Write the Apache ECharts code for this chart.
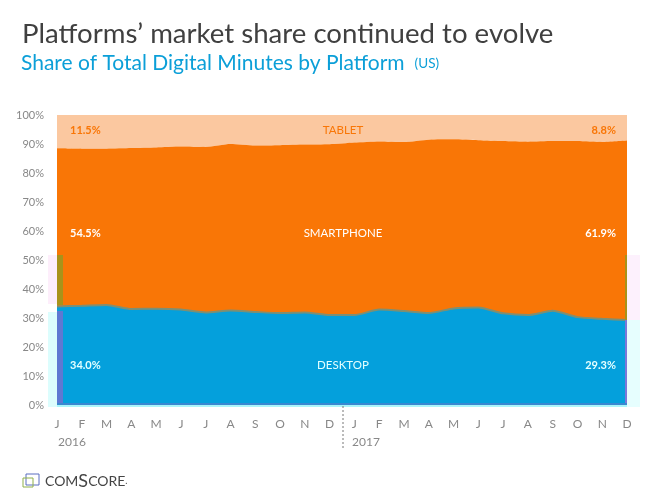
<!DOCTYPE html>
<html>
<head>
<meta charset="utf-8">
<style>html,body{margin:0;padding:0;background:#fff}#main{width:650px;height:499px}</style>
<script src="https://cdn.jsdelivr.net/npm/echarts@6/dist/echarts.min.js"></script>
</head>
<body>
<div id="main"></div>
<script>
const months = ['J','F','M','A','M','J','J','A','S','O','N','D','J','F','M','A','M','J','J','A','S','O','N','D'];
const percentLabels = ['0%','10%','20%','30%','40%','50%','60%','70%','80%','90%','100%'];

// Share of minutes
const desktop    = [34.0,34.2,34.5,33.1,33.2,32.9,31.9,32.6,32.1,31.7,31.9,31.0,31.0,32.9,32.4,31.7,33.3,33.6,31.6,31.0,32.5,30.3,29.7,29.3];
const smartphone = [54.5,54.2,53.9,55.5,55.6,56.2,57.1,57.4,57.4,57.9,57.9,58.9,59.5,58.0,58.3,59.8,58.3,57.7,59.4,59.8,58.5,60.7,61.0,61.9];
const tablet     = [11.5,11.6,11.6,11.4,11.2,10.9,11.0,10.0,10.5,10.4,10.2,10.1,9.5,9.1,9.3,8.5,8.4,8.7,9.0,9.2,9.0,9.0,9.3,8.8];

var myChart = echarts.init(document.getElementById('main'));

const font = 'Lato';
const grey = '#888';

function note(text, x, y, color, align) {
    return {
        type: 'text',
        x: x,
        y: y,
        z: 10,
        style: {
            text: text,
            fill: color,
            font: (text.indexOf('%') > 0 ? 'bold 11px ' : '11.5px ') + font,
            align: align,
            verticalAlign: 'middle'
        }
    };
}

// Colour fringes around the plot area, as they show in the reference
function fringe(x, y, width, height, color) {
    return {
        type: 'rect',
        z: 9,
        shape: { x: x, y: y, width: width, height: height },
        style: { fill: color }
    };
}

var option = {
    animation: false,
    backgroundColor: '#fff',
    title: [
        {
            text: 'Platforms’ market share continued to evolve',
            left: 17,
            top: 15,
            textStyle: { fontFamily: font, fontSize: 27.6, fontWeight: 'normal', color: '#404040' }
        },
        {
            text: '{a|Share of Total Digital Minutes by Platform}  {b|(US)}',
            left: 16,
            top: 48,
            textStyle: {
                fontWeight: 'normal',
                rich: {
                    a: { fontFamily: font, fontSize: 21, fontWeight: 'normal', color: '#0b9fd8' },
                    b: { fontFamily: font, fontSize: 13.5, fontWeight: 'normal', color: '#0b9fd8' }
                }
            }
        }
    ],
    grid: { left: 57, right: 23, top: 115, bottom: 94 },
    xAxis: {
        type: 'category',
        boundaryGap: false,
        data: months,
        axisLine: { show: false },
        axisTick: { show: false },
        axisLabel: { interval: 0, color: grey, fontFamily: font, fontSize: 12, margin: 13 }
    },
    yAxis: {
        type: 'value',
        min: 0,
        max: 100,
        interval: 10,
        splitLine: { show: false },
        axisLine: { show: false },
        axisTick: { show: false },
        axisLabel: {
            color: grey,
            fontFamily: font,
            fontSize: 11,
            margin: 13,
            formatter: function (v) { return percentLabels[v / 10]; }
        }
    },
    series: [
        {
            name: 'Desktop', type: 'line', stack: 'share', data: desktop, symbol: 'none',
            smooth: 0.2,
            lineStyle: { width: 2, color: '#7d8f74' },
            areaStyle: { color: '#04a0dc', opacity: 1 },
            z: 5
        },
        {
            name: 'Smartphone', type: 'line', stack: 'share', data: smartphone, symbol: 'none',
            smooth: 0.2,
            lineStyle: { width: 0 },
            areaStyle: { color: '#f97606', opacity: 1 },
            z: 4
        },
        {
            name: 'Tablet', type: 'line', stack: 'share', data: tablet, symbol: 'none',
            smooth: 0.2,
            lineStyle: { width: 0 },
            areaStyle: { color: '#fbc8a0', opacity: 1 },
            z: 3
        }
    ],
    graphic: [
        fringe(48, 255, 9, 49, '#fdeefb'),
        fringe(48, 312, 9, 95, '#dcfdfd'),
        fringe(627, 255, 13, 65, '#fdf1fd'),
        fringe(627, 320, 13, 87, '#e6fefe'),
        fringe(57, 405, 570, 2, '#aaf6fa'),
        fringe(57, 255, 6, 50, '#a8931a'),
        fringe(57, 311, 6, 94, '#5f78d2'),
        fringe(625, 255, 2, 65, '#a8931a'),
        fringe(625, 320, 2, 85, '#7b78d8'),
        fringe(57, 403, 570, 2, '#3a88d0'),
        note('11.5%', 70, 130, '#f97606', 'left'),
        note('8.8%', 616, 130, '#f97606', 'right'),
        note('TABLET', 343, 130, '#f97606', 'center'),
        note('54.5%', 70, 233, '#fff', 'left'),
        note('61.9%', 616, 233, '#fff', 'right'),
        note('SMARTPHONE', 343, 233, '#fff', 'center'),
        note('34.0%', 70, 365, '#e4ffff', 'left'),
        note('29.3%', 616, 365, '#e4ffff', 'right'),
        note('DESKTOP', 343, 365, '#e4ffff', 'center'),
        {
            type: 'text', x: 58, y: 442,
            style: { text: '2016', fill: grey, font: '12px ' + font, verticalAlign: 'middle' }
        },
        {
            type: 'text', x: 352, y: 442,
            style: { text: '2017', fill: grey, font: '12px ' + font, verticalAlign: 'middle' }
        },
        {
            type: 'line',
            z: 10,
            shape: { x1: 343, y1: 406, x2: 343, y2: 449 },
            style: { stroke: '#777', lineWidth: 1, lineDash: [2, 2] }
        },
        // comScore logo
        {
            type: 'rect',
            shape: { x: 26, y: 474, width: 13, height: 11 },
            style: { fill: 'none', stroke: '#5b6fc0', lineWidth: 1 }
        },
        {
            type: 'rect',
            shape: { x: 23, y: 478, width: 10, height: 9 },
            style: { fill: 'none', stroke: '#8fb04a', lineWidth: 1 }
        },
        {
            type: 'text', x: 45, y: 481,
            style: {
                text: '{a|COM}{b|S}{a|CORE}{c|.}',
                verticalAlign: 'middle',
                rich: {
                    a: { fontFamily: font, fontSize: 14, fill: '#444' },
                    b: { fontFamily: font, fontSize: 18, fill: '#444' },
                    c: { fontFamily: font, fontSize: 9, fill: '#444' }
                }
            }
        }
    ]
};

myChart.setOption(option);
</script>
</body>
</html>
